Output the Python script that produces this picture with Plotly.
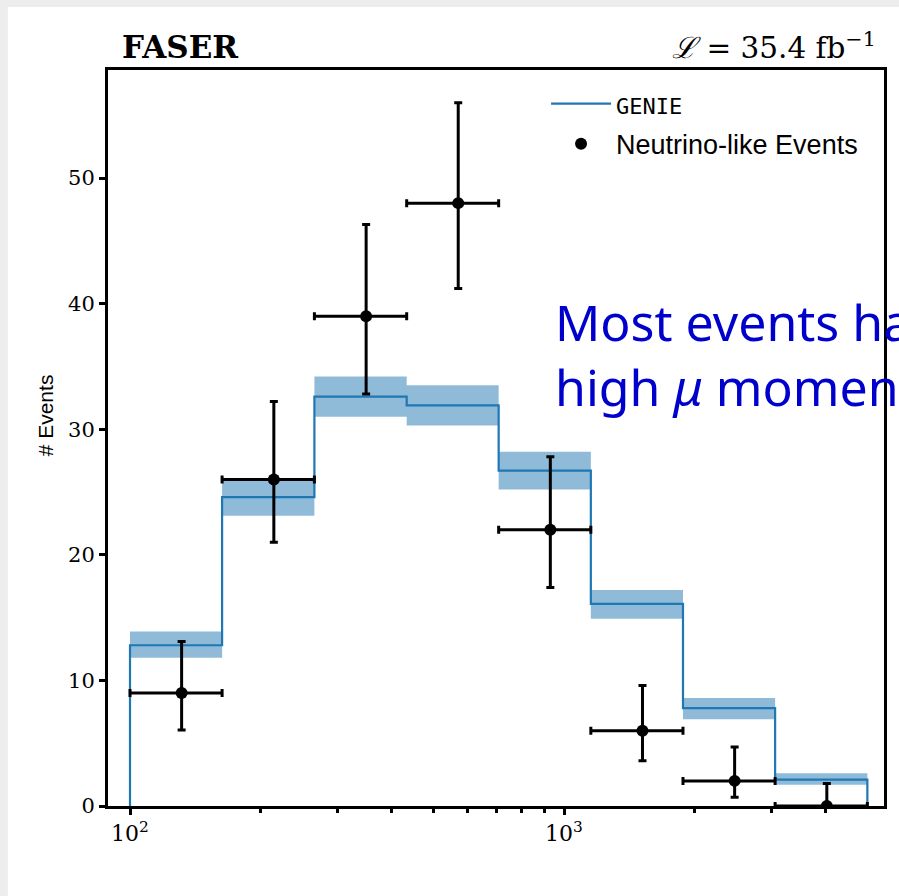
import plotly.graph_objects as go

# ---- data ----
bin_edges = [100, 163, 266, 434, 707, 1153, 1880, 3065, 5000]
genie = [12.8, 24.6, 32.6, 31.9, 26.7, 16.1, 7.8, 2.1]
genie_lo = [11.8, 23.1, 31.0, 30.3, 25.2, 14.9, 6.9, 1.7]
genie_hi = [13.9, 25.9, 34.2, 33.5, 28.2, 17.2, 8.6, 2.6]
data_counts = [9, 26, 39, 48, 22, 6, 2, 0]
data_err_lo = [6.05, 21.0, 32.8, 41.2, 17.4, 3.6, 0.7, 0.0]
data_err_hi = [13.1, 32.2, 46.3, 56.0, 27.8, 9.6, 4.7, 1.8]

BLUE = "#1f77b4"
fig = go.Figure()

# uncertainty bands
bx, by = [], []
for i in range(len(genie)):
    lo, hi = bin_edges[i], bin_edges[i + 1]
    bx += [lo, hi, hi, lo, lo, None]
    by += [genie_lo[i], genie_lo[i], genie_hi[i], genie_hi[i], genie_lo[i], None]
fig.add_trace(go.Scatter(x=bx, y=by, mode="lines", fill="toself",
                         fillcolor="rgba(31,119,180,0.5)", line=dict(width=0),
                         showlegend=False, hoverinfo="skip"))

# GENIE step line
sx, sy = [bin_edges[0]], [0]
for i in range(len(genie)):
    sx += [bin_edges[i], bin_edges[i + 1]]
    sy += [genie[i], genie[i]]
sx.append(bin_edges[-1]); sy.append(0)
fig.add_trace(go.Scatter(x=sx, y=sy, mode="lines", line=dict(color=BLUE, width=2.2),
                         name='<span style="font-family:DejaVu Sans Mono;font-size:22px">GENIE</span>',
                         legendgroup="a"))

# data points
cx = [(bin_edges[i] + bin_edges[i + 1]) / 2 for i in range(len(data_counts))]
fig.add_trace(go.Scatter(
    x=cx, y=data_counts, mode="markers",
    marker=dict(color="black", size=12),
    error_y=dict(type="data", symmetric=False,
                 array=[h - c for h, c in zip(data_err_hi, data_counts)],
                 arrayminus=[c - l for l, c in zip(data_err_lo, data_counts)],
                 color="black", thickness=3, width=4),
    error_x=dict(type="data", symmetric=False,
                 array=[bin_edges[i + 1] - cx[i] for i in range(len(cx))],
                 arrayminus=[cx[i] - bin_edges[i] for i in range(len(cx))],
                 color="black", thickness=3, width=4),
    name="Neutrino-like Events", legendgroup="b"))

fig.add_shape(type="rect", xref="paper", yref="paper", x0=-0.129, x1=1.05,
              y0=-0.2, y1=1.0856, fillcolor="white", line=dict(width=0), layer="below")

SERIF = "DejaVu Serif"
fig.update_layout(
    width=899, height=896,
    margin=dict(l=108, r=15, t=70, b=90),
    paper_bgcolor="#ededed", plot_bgcolor="white",
    showlegend=True,
    legend=dict(x=0.973, xanchor="right", y=0.987, yanchor="top",
                bgcolor="rgba(0,0,0,0)", font=dict(family="Liberation Sans", size=27, color="black"),
                tracegroupgap=2, itemwidth=60, traceorder="grouped"),
    xaxis=dict(type="log", range=[1.9493, 3.7373], showgrid=False, zeroline=False,
               showline=True, linecolor="black", linewidth=3, mirror=True,
               ticks="outside", ticklen=6, tickwidth=2.5, tickcolor="black",
               tickvals=[100, 1000], ticktext=["10<sup>2</sup>", "10<sup>3</sup>"],
               tickfont=dict(family=SERIF, size=22, color="black"),
               minor=dict(ticks="outside", ticklen=4, tickwidth=2.5, tickcolor="black",
                          tickvals=[200, 300, 400, 500, 600, 700, 800, 900, 2000, 3000, 4000])),
    yaxis=dict(range=[0, 58.6], showgrid=False, zeroline=False,
               showline=True, linecolor="black", linewidth=3, mirror=True,
               ticks="outside", ticklen=6, tickwidth=2.5, tickcolor="black",
               tickvals=[0, 10, 20, 30, 40, 50],
               tickfont=dict(family=SERIF, size=21, color="black")),
)

fig.add_annotation(text="# Events", xref="paper", yref="paper", x=-0.081, y=0.531,
                   xanchor="center", yanchor="middle", textangle=-90, showarrow=False,
                   font=dict(family="Liberation Sans", size=21, color="black"))
fig.add_annotation(text="<b>FASER</b>", xref="paper", yref="paper", x=0.016, y=1.004,
                   xanchor="left", yanchor="bottom", showarrow=False,
                   font=dict(family=SERIF, size=31, color="black"))
fig.add_annotation(text="<i>ℒ</i> = 35.4 fb<sup>−1</sup>", xref="paper", yref="paper",
                   x=0.992, y=1.004, xanchor="right", yanchor="bottom", showarrow=False,
                   font=dict(family=SERIF, size=29.5, color="black"))
fig.add_annotation(text="Most events have<br>high <i>μ</i> momentum", xref="paper", yref="paper",
                   x=0.5735, y=0.7065, xanchor="left", yanchor="top", align="left",
                   showarrow=False, font=dict(family="Noto Sans", size=50, color="#0000CC"))

fig.write_html("out.html")
